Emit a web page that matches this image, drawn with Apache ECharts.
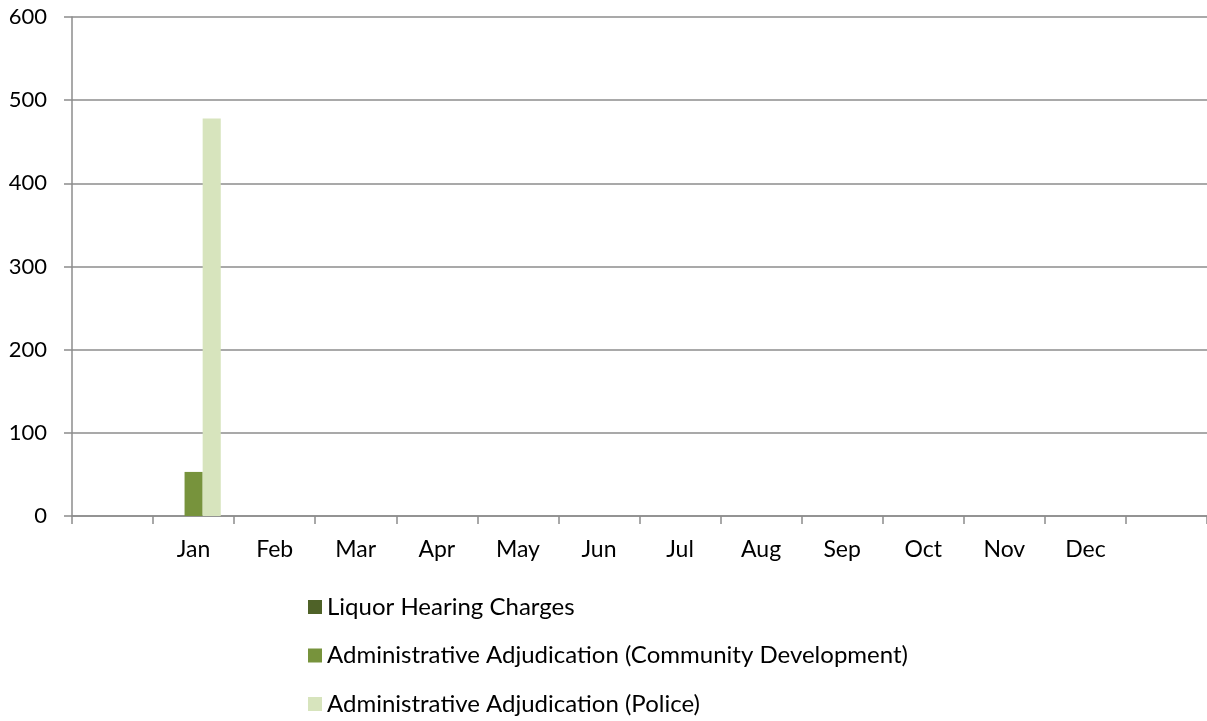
<!DOCTYPE html>
<html>
<head>
<meta charset="utf-8">
<script src="https://cdn.jsdelivr.net/npm/echarts@6/dist/echarts.min.js"></script>
<style>
  html, body { margin: 0; padding: 0; background: #ffffff; }
  #chart { width: 1207px; height: 721px; }
</style>
</head>
<body>
<div id="chart"></div>
<script>
// Month slots, padded with an empty slot at each end
const categories = ['', 'Jan', 'Feb', 'Mar', 'Apr', 'May', 'Jun', 'Jul', 'Aug', 'Sep', 'Oct', 'Nov', 'Dec', ''];

const liquorHearing =   [null, 0, null, null, null, null, null, null, null, null, null, null, null, null];
const adjCommunityDev = [null, 53, null, null, null, null, null, null, null, null, null, null, null, null];
const adjPolice =       [null, 478, null, null, null, null, null, null, null, null, null, null, null, null];

const seriesNames = [
  'Liquor Hearing Charges',
  'Administrative Adjudication (Community Development)',
  'Administrative Adjudication (Police)'
];
const seriesColors = ['#4F6228', '#77933C', '#D7E4BD'];

const yMin = 0, yMax = 600, yStep = 100;

const FONT = 'Lato';
const gridGray = '#8C8C8C';

const chart = echarts.init(document.getElementById('chart'), null, { renderer: 'canvas' });

const seriesData = [liquorHearing, adjCommunityDev, adjPolice];

chart.setOption({
  animation: false,
  backgroundColor: '#ffffff',
  textStyle: { fontFamily: FONT },
  grid: { left: 72, right: 0, top: 17, bottom: 205, containLabel: false },
  xAxis: {
    type: 'category',
    data: categories,
    boundaryGap: true,
    axisLine: { show: true, lineStyle: { color: gridGray, width: 1.5 } },
    axisTick: { show: true, length: 8, alignWithLabel: false, lineStyle: { color: gridGray, width: 1.5 } },
    axisLabel: { interval: 0, margin: 22, color: '#000000', fontFamily: FONT, fontSize: 23, lineHeight: 24 },
    splitLine: { show: false }
  },
  yAxis: {
    type: 'value',
    min: yMin,
    max: yMax,
    interval: yStep,
    axisLine: { show: true, lineStyle: { color: gridGray, width: 1.5 } },
    axisTick: { show: true, length: 8, lineStyle: { color: gridGray, width: 1.5 } },
    axisLabel: { margin: 25, color: '#000000', fontFamily: FONT, fontSize: 22 },
    splitLine: { show: true, lineStyle: { color: gridGray, width: 1.5 } }
  },
  legend: {
    orient: 'vertical',
    left: 308,
    top: 595,
    padding: 0,
    itemWidth: 14,
    itemHeight: 14,
    itemGap: 24.5,
    icon: 'rect',
    selectedMode: false,
    textStyle: { color: '#000000', fontFamily: FONT, fontSize: 24, lineHeight: 24 },
    data: seriesNames
  },
  series: seriesNames.map((name, i) => ({
    name: name,
    type: 'bar',
    data: seriesData[i],
    barGap: '0%',
    barCategoryGap: '33%',
    itemStyle: { color: seriesColors[i] }
  }))
});
</script>
</body>
</html>
